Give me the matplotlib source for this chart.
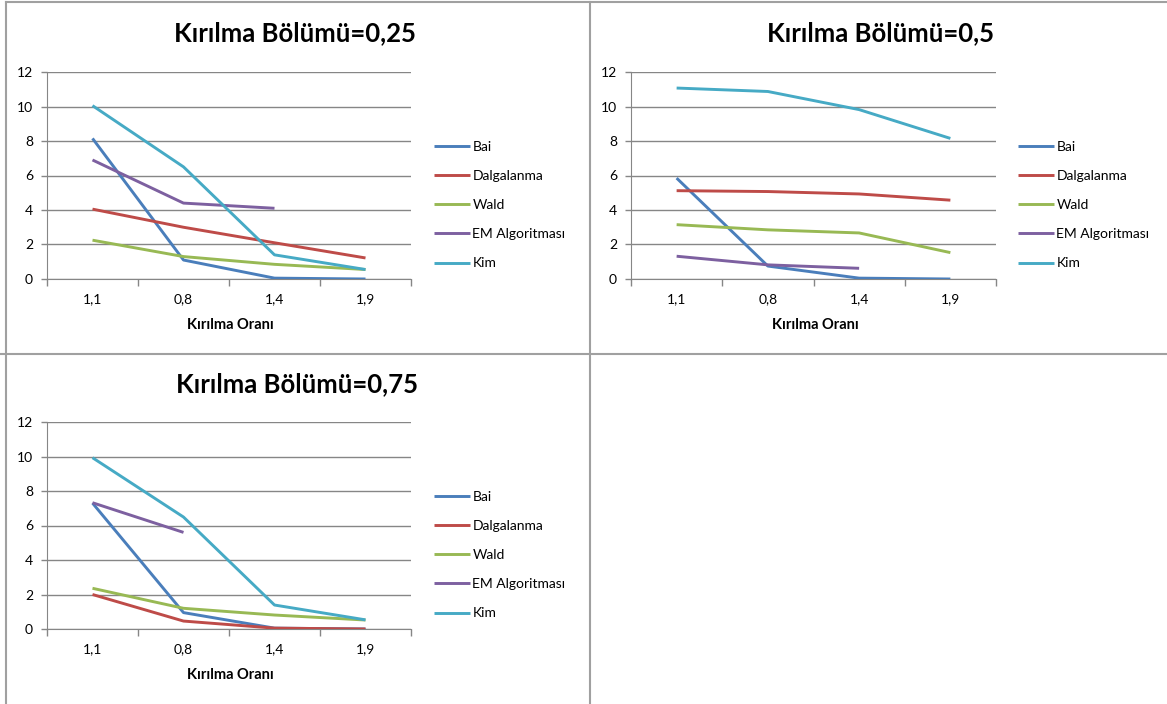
import numpy as np
import matplotlib
matplotlib.use("Agg")
import matplotlib.pyplot as plt
from matplotlib.lines import Line2D

plt.rcParams["font.family"] = ["Lato", "DejaVu Sans"]

# Data
categories = ["1,1", "0,8", "1,4", "1,9"]
series_names = ["Bai", "Dalgalanma", "Wald", "EM Algoritması", "Kim"]
series_colors = ["#4A7EBB", "#BE4B48", "#98B954", "#7D60A0", "#46AAC5"]

titles = ["Kırılma Bölümü=0,25", "Kırılma Bölümü=0,5", "Kırılma Bölümü=0,75"]

bai_025 = [8.15, 1.1, 0.05, 0.0]
dalga_025 = [4.05, 3.0, 2.1, 1.22]
wald_025 = [2.25, 1.3, 0.85, 0.55]
em_025 = [6.9, 4.4, 4.1, np.nan]
kim_025 = [10.05, 6.5, 1.4, 0.55]

bai_05 = [5.85, 0.75, 0.05, 0.0]
dalga_05 = [5.12, 5.07, 4.93, 4.57]
wald_05 = [3.15, 2.85, 2.67, 1.53]
em_05 = [1.32, 0.82, 0.62, np.nan]
kim_05 = [11.07, 10.87, 9.82, 8.15]

bai_075 = [7.3, 0.95, 0.05, 0.0]
dalga_075 = [2.0, 0.46, 0.05, 0.0]
wald_075 = [2.36, 1.2, 0.81, 0.52]
em_075 = [7.32, 5.6, np.nan, np.nan]
kim_075 = [9.93, 6.49, 1.39, 0.53]

panels = [
    [bai_025, dalga_025, wald_025, em_025, kim_025],
    [bai_05, dalga_05, wald_05, em_05, kim_05],
    [bai_075, dalga_075, wald_075, em_075, kim_075],
]

W, H = 1167, 704
fig = plt.figure(figsize=(W / 100, H / 100), dpi=100, facecolor="white")


def fx(px):
    return px / W


def fy(py):
    return 1 - py / H


# panel layout in pixels: (axes left, right, top, bottom, legend x, legend top y)
layout = [
    (47, 411, 72, 279, 436, 135),
    (631, 996, 72, 279, 1020, 135),
    (47, 411, 422, 629, 436, 485),
]
title_pos = [(295, 33), (881, 33), (297, 384)]
xlabel_pos = [(230, 325), (815, 325), (230, 675)]

grid_color = "#868686"

for i, data in enumerate(panels):
    left, right, top, bottom, lx, ly = layout[i]
    ax = fig.add_axes([fx(left), fy(bottom), fx(right - left), (bottom - top) / H])
    x = np.arange(len(categories))
    for vals, name, color in zip(data, series_names, series_colors):
        ax.plot(x, vals, color=color, linewidth=2.1, label=name,
                solid_capstyle="butt", zorder=3)

    ax.set_xlim(-0.5, 3.5)
    ax.set_ylim(0, 12)
    ax.set_yticks(range(0, 13, 2))
    ax.yaxis.grid(True, color=grid_color, linewidth=1.0, zorder=1)
    ax.set_xticks([-0.5, 0.5, 1.5, 2.5, 3.5])
    ax.set_xticks(x, minor=True)
    ax.set_xticklabels([])
    ax.set_xticklabels(categories, minor=True)
    ax.tick_params(axis="x", which="major", length=5, color=grid_color, width=1)
    ax.tick_params(axis="x", which="minor", length=0, pad=10, labelsize=10)
    ax.tick_params(axis="y", length=4, color=grid_color, width=1, labelsize=10, pad=6)
    for side in ["top", "right"]:
        ax.spines[side].set_visible(False)
    ax.spines["left"].set_color(grid_color)
    ax.spines["bottom"].set_color(grid_color)
    ax.set_axisbelow(True)

    tx, ty = title_pos[i]
    fig.text(fx(tx), fy(ty), titles[i], ha="center", va="center",
             fontsize=18.5, fontweight="bold")
    xx, xy = xlabel_pos[i]
    fig.text(fx(xx), fy(xy), "Kırılma Oranı", ha="center", va="center",
             fontsize=10.5, fontweight="bold")

    leg = ax.legend(loc="upper left", bbox_to_anchor=(fx(lx - 8), fy(ly)),
                    bbox_transform=fig.transFigure, frameon=False, fontsize=10,
                    handlelength=2.6, handletextpad=0.2, labelspacing=1.24,
                    borderaxespad=0)

# panel separators
sep = dict(color="#A0A0A0", linewidth=1.5)
fig.add_artist(Line2D([fx(6), 1], [fy(2), fy(2)], transform=fig.transFigure, **sep))
fig.add_artist(Line2D([fx(6), fx(6)], [fy(2), 0], transform=fig.transFigure, **sep))
fig.add_artist(Line2D([fx(590), fx(590)], [fy(2), 0], transform=fig.transFigure, **sep))
fig.add_artist(Line2D([fx(0), 1], [fy(354), fy(354)], transform=fig.transFigure, **sep))

fig.savefig("out.png", dpi=100, facecolor="white")
